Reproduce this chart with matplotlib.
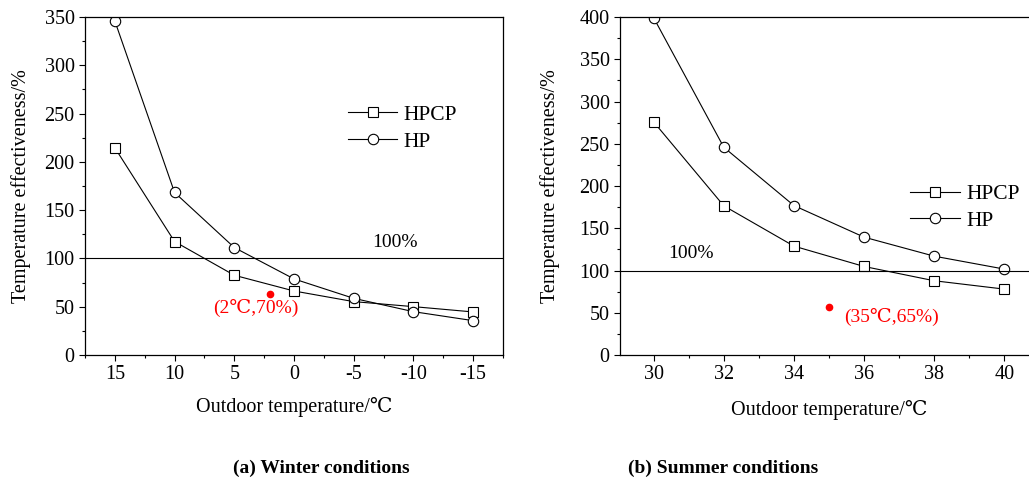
import numpy as np
import matplotlib
matplotlib.use("Agg")
import matplotlib.pyplot as plt
from matplotlib.ticker import MultipleLocator

plt.rcParams['font.family'] = ['Liberation Serif', 'DejaVu Serif']
plt.rcParams['font.size'] = 14

# winter data
winter_t = [15, 10, 5, 0, -5, -10, -15]
winter_hpcp = [214.6, 117.5, 82.6, 66.3, 55.3, 50.1, 44.6]
winter_hp = [345.9, 168.3, 111.3, 78.8, 58.7, 44.9, 35.6]
winter_pt = (2, 62.9)

# summer data
summer_t = [30, 32, 34, 36, 38, 40]
summer_hpcp = [275.9, 176.6, 128.9, 104.8, 87.9, 78.0]
summer_hp = [399.2, 245.9, 176.9, 139.5, 117.0, 101.7]
summer_pt = (35, 56.7)

fig = plt.figure(figsize=(10.29, 4.84), dpi=100)
ax1 = fig.add_axes([0.0826, 0.2665, 0.4062, 0.6983])
ax2 = fig.add_axes([0.6025, 0.2665, 0.4062, 0.6983])

mk = dict(color='black', lw=0.8, mfc='white', mec='black', mew=0.8, ms=7.5)


def style(ax):
    for s in ax.spines.values():
        s.set_linewidth(0.9)
    ax.tick_params(which='major', direction='out', length=4, width=0.8,
                   labelsize=14.5, top=False, right=False)
    ax.tick_params(which='minor', direction='out', length=2.5, width=0.8,
                   top=False, right=False)


# (a) winter
ax1.plot(winter_t, winter_hpcp, marker='s', label='HPCP', **mk)
ax1.plot(winter_t, winter_hp, marker='o', label='HP', **mk)
ax1.axhline(100, color='black', lw=0.8)
ax1.plot(*winter_pt, 'o', color='red', ms=4.5)
ax1.text(-8.46, 116, '100%', ha='center', va='center', fontsize=14)
ax1.text(3.2, 48.4, '(2℃,70%)', color='red', ha='center', va='center', fontsize=14)
ax1.set_xlim(17.5, -17.5)
ax1.set_ylim(0, 350)
ax1.xaxis.set_minor_locator(MultipleLocator(2.5))
ax1.yaxis.set_major_locator(MultipleLocator(50))
ax1.yaxis.set_minor_locator(MultipleLocator(25))
ax1.set_xticks(winter_t)
ax1.set_xticklabels(['15', '10', '5', '0', '-5', '-10', '-15'])
ax1.set_xlabel('Outdoor temperature/℃', fontsize=14.5, labelpad=9)
ax1.set_ylabel('Temperature effectiveness/%', fontsize=14.5, labelpad=10)
ax1.legend(loc='upper left', bbox_to_anchor=(0.629, 0.74), frameon=False,
           borderaxespad=0, borderpad=0, handlelength=2.3, handletextpad=0.3,
           labelspacing=0.3, numpoints=1, fontsize=15.5)
style(ax1)

# (b) summer
ax2.plot(summer_t, summer_hpcp, marker='s', label='HPCP', **mk)
ax2.plot(summer_t, summer_hp, marker='o', label='HP', **mk)
ax2.axhline(100, color='black', lw=0.8)
ax2.plot(*summer_pt, 'o', color='red', ms=4.5)
ax2.text(31.06, 120, '100%', ha='center', va='center', fontsize=14)
ax2.text(36.77, 44.5, '(35℃,65%)', color='red', ha='center', va='center', fontsize=14)
ax2.set_xlim(29.04, 40.96)
ax2.set_ylim(0, 400)
ax2.xaxis.set_major_locator(MultipleLocator(2))
ax2.xaxis.set_minor_locator(MultipleLocator(1))
ax2.yaxis.set_major_locator(MultipleLocator(50))
ax2.yaxis.set_minor_locator(MultipleLocator(25))
ax2.set_xlabel('Outdoor temperature/℃', fontsize=14.5, labelpad=11)
ax2.set_ylabel('Temperature effectiveness/%', fontsize=14.5, labelpad=14)
ax2.legend(loc='upper left', bbox_to_anchor=(0.694, 0.506), frameon=False,
           borderaxespad=0, borderpad=0, handlelength=2.3, handletextpad=0.3,
           labelspacing=0.3, numpoints=1, fontsize=15.5)
style(ax2)

fig.text(0.312, 0.033, '(a) Winter conditions', ha='center', va='center',
         fontsize=14, fontweight='bold')
fig.text(0.703, 0.033, '(b) Summer conditions', ha='center', va='center',
         fontsize=14, fontweight='bold')

fig.savefig('out.png', dpi=100)
